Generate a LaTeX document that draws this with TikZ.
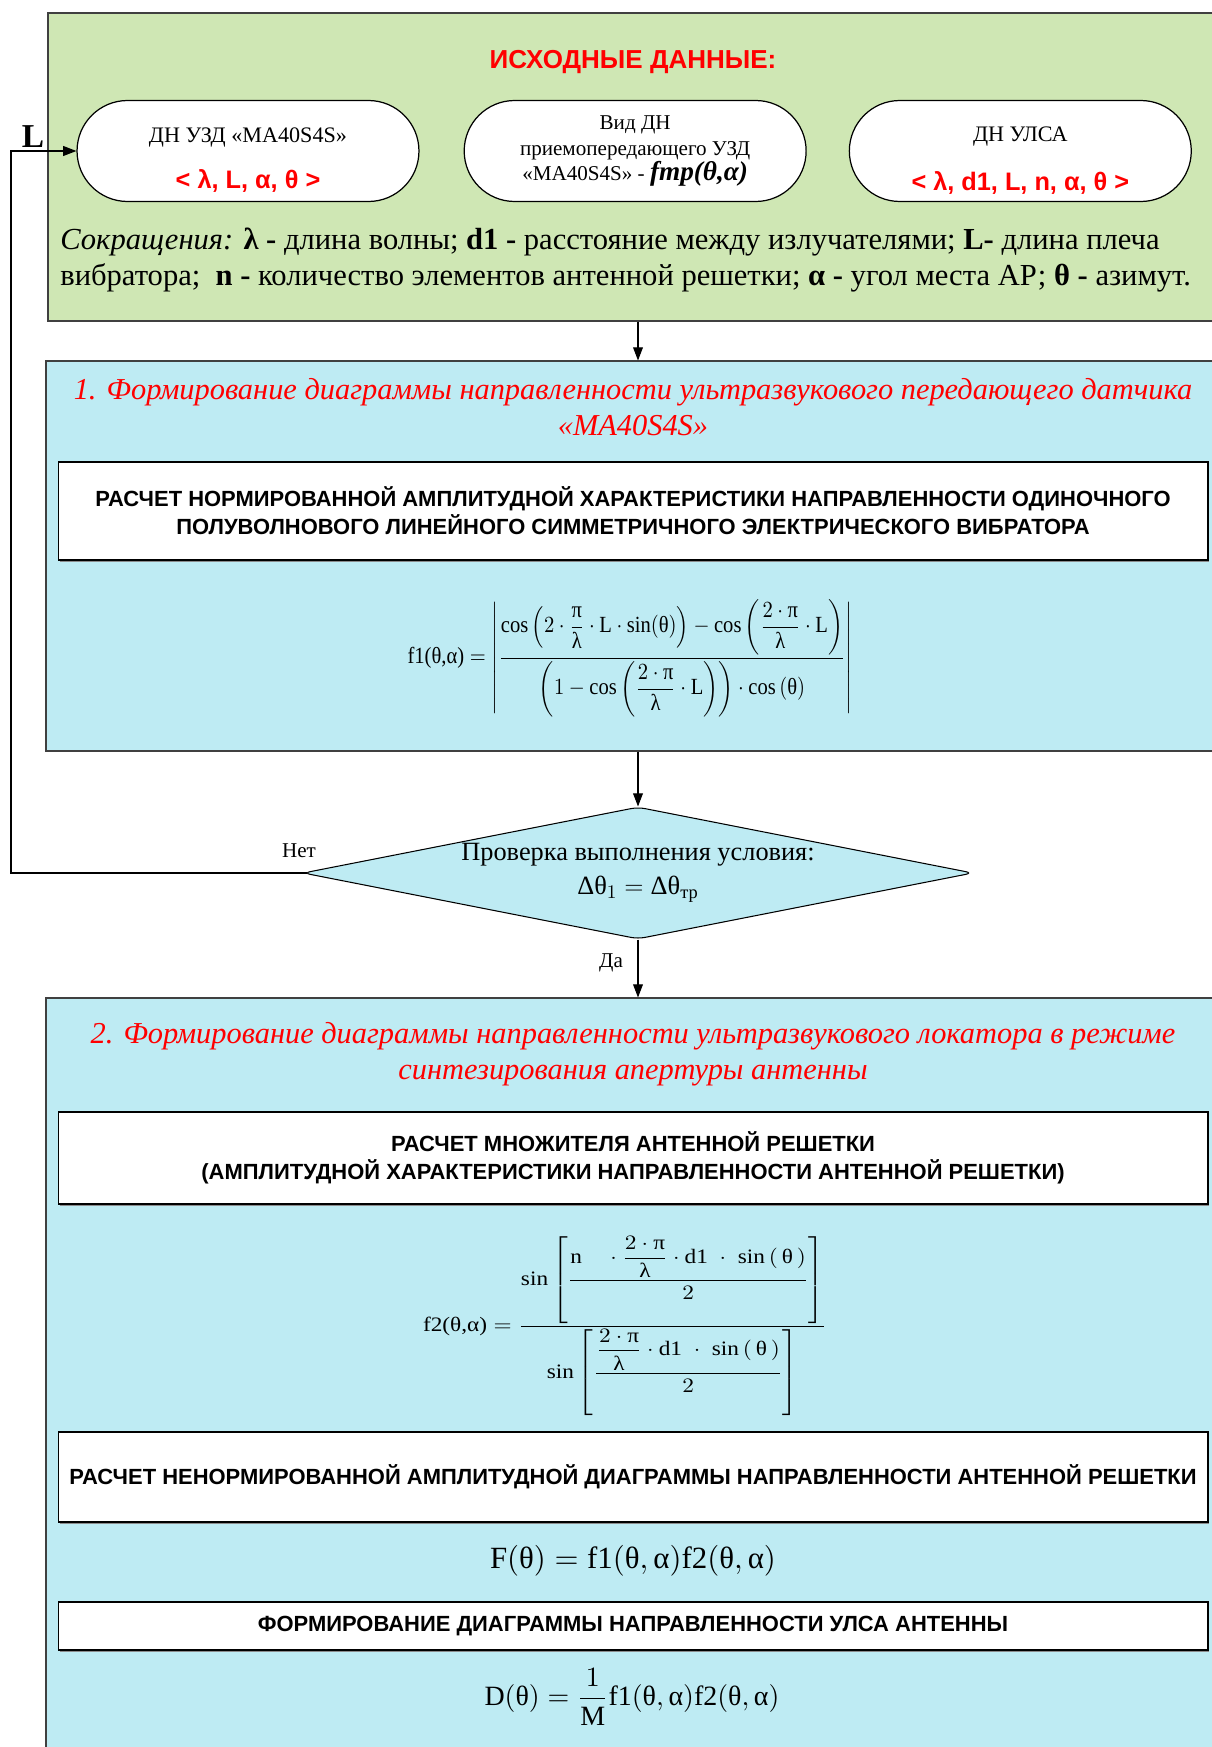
\documentclass[tikz,border=0pt]{standalone}
\usepackage{fontspec}
\setmainfont{Liberation Serif}
\setsansfont{Liberation Sans}
\usepackage{amsmath}
\usepackage{graphicx}
\usetikzlibrary{arrows.meta, positioning, shapes.geometric, shapes.misc, fit, shadows}
\definecolor{srcGreen}{HTML}{CFE7B4}
\definecolor{stageCyan}{HTML}{BEEBF3}
\definecolor{hdRed}{HTML}{FF0000}
\newcommand{\tht}{\text{θ}}
\newcommand{\alp}{\text{α}}
\newcommand{\lam}{\text{λ}}
\newcommand{\pii}{\text{π}}
\newcommand{\redpar}[1]{{\sffamily\bfseries\fontsize{14.4}{16}\selectfont\color{hdRed}#1}}
\newcommand{\lowr}{\rule{0pt}{19pt}}

\begin{document}
\begin{tikzpicture}[x=0.02cm, y=-0.02cm,
  panel/.style={draw=black!75, line width=0.6pt, inner sep=0pt},
  calcbox/.style={rectangle, draw=black, fill=white, line width=0.7pt, inner sep=0pt, align=center,
    drop shadow={shadow xshift=0.9pt, shadow yshift=-0.9pt, fill=black!45, opacity=1},
    minimum width=23cm, font=\sffamily\bfseries\fontsize{12.5}{15.9}\selectfont},
  datum/.style={rounded rectangle, draw=black, fill=white, line width=0.7pt,
    minimum width=6.84cm, minimum height=2.02cm, align=center, inner sep=0pt,
    font=\fontsize{12.6}{15}\selectfont},
  stagehead/.style={font=\itshape\fontsize{17.3}{20.4}\selectfont, text=hdRed, align=center},
  decision/.style={diamond, aspect=5, draw=black, fill=stageCyan, line width=0.6pt, inner sep=0pt,
    rounded corners=4pt, minimum width=13.4cm, minimum height=2.64cm, align=center,
    font=\fontsize{15}{19.3}\selectfont},
  tag/.style={font=\fontsize{12}{14}\selectfont, inner sep=1pt},
  arr/.style={-{Triangle[length=7.5pt,width=5.6pt]}, line width=0.6pt}
]
  \useasboundingbox (0,0) rectangle (1211,1747);

  \node[panel, fill=srcGreen, fit={(48,13) (1216,321)}] (src) {};
  \node[font=\sffamily\bfseries\fontsize{14.8}{16}\selectfont, text=hdRed] (srchead) at (633,62) {ИСХОДНЫЕ ДАННЫЕ:};
  \node[datum] (dnuzd) at (248,151) {\lowr ДН УЗД «MA40S4S»\\[11pt]\redpar{< λ, L, α, θ >}};
  \node[datum, font=\fontsize{12}{14.5}\selectfont, right=0.88cm of dnuzd] (vid) {Вид ДН\\приемопередающего УЗД\\«MA40S4S» - {\bfseries\itshape\fontsize{15.5}{15}\selectfont fmp(θ,α)}};
  \node[datum, right=0.84cm of vid] (dnulsa) {\lowr ДН УЛСА\\[13pt]\redpar{< λ, d1, L, n, α, θ >}};
  \node[anchor=west, align=left, inner sep=0pt, font=\fontsize{17.4}{20.4}\selectfont] (abbr) at (60,260)
    {\textit{Сокращения:} \textbf{λ -} длина волны; \textbf{d1 -} расстояние между излучателями; \textbf{L-} длина плеча\\
     вибратора;\ \ \textbf{n -} количество элементов антенной решетки; \textbf{α -} угол места АР; \textbf{θ -} азимут.};
  \node[font=\bfseries\fontsize{19}{20}\selectfont, inner sep=0pt] (lin) at (33,137) {L};

  \node[panel, fill=stageCyan, fit={(46,361) (1216,751)}] (st1) {};
  \node[stagehead] (st1head) at (633,407) {1. Формирование диаграммы направленности ультразвукового передающего датчика\\«MA40S4S»};
  \node[calcbox, minimum height=1.96cm] (calc1) at (633,511) {РАСЧЕТ НОРМИРОВАННОЙ АМПЛИТУДНОЙ ХАРАКТЕРИСТИКИ НАПРАВЛЕННОСТИ ОДИНОЧНОГО\\ПОЛУВОЛНОВОГО ЛИНЕЙНОГО СИММЕТРИЧНОГО ЭЛЕКТРИЧЕСКОГО ВИБРАТОРА};
  \node[inner sep=0pt] (fone) at (630,658) {\resizebox*{8.9cm}{2.35cm}{$\text{f1(θ,α)} = \left|\dfrac{\text{cos}\left(2\cdot\dfrac{\pii}{\lam}\cdot\mathrm{L}\cdot\text{sin}(\tht)\right) - \text{cos}\left(\dfrac{2\cdot\pii}{\lam}\cdot\mathrm{L}\right)}{\left(1-\text{cos}\left(\dfrac{2\cdot\pii}{\lam}\cdot\mathrm{L}\right)\right)\cdot\text{cos}\,(\tht)}\right|$}};

  \node[decision] (dia) at (638,873) {Проверка выполнения условия:\\$\text{Δθ}_1 = \text{Δθ}_{\text{тр}}$};
  \node[tag] (no) at (299,851) {Нет};
  \node[tag] (yes) at (611,963) {Да};

  \node[panel, fill=stageCyan, fit={(46,998) (1216,1760)}] (st2) {};
  \node[stagehead] (st2head) at (633,1054) {2. Формирование диаграммы направленности ультразвукового локатора в режиме\\синтезирования апертуры антенны};
  \node[calcbox, minimum height=1.84cm] (calc2) at (633,1158) {РАСЧЕТ МНОЖИТЕЛЯ АНТЕННОЙ РЕШЕТКИ\\(АМПЛИТУДНОЙ ХАРАКТЕРИСТИКИ НАПРАВЛЕННОСТИ АНТЕННОЙ РЕШЕТКИ)};
  \node[inner sep=0pt] (ftwo) at (625,1326) {\resizebox*{8.08cm}{3.6cm}{$\text{f2(θ,α)} = \dfrac{\text{sin}\left[\dfrac{\mathrm{n}\quad\cdot\dfrac{2\cdot\pii}{\lam}\cdot\mathrm{d1}\;\cdot\;\text{sin}\,(\,\tht\,)}{2}\right]}{\text{sin}\left[\dfrac{\dfrac{2\cdot\pii}{\lam}\cdot\mathrm{d1}\;\cdot\;\text{sin}\,(\,\tht\,)}{2}\right]}$}};
  \node[calcbox, minimum height=1.8cm] (calc3) at (633,1477) {РАСЧЕТ НЕНОРМИРОВАННОЙ АМПЛИТУДНОЙ ДИАГРАММЫ НАПРАВЛЕННОСТИ АНТЕННОЙ РЕШЕТКИ};
  \node[inner sep=0pt] (fbig) at (633,1561) {\resizebox{5.72cm}{!}{$\mathrm{F}(\tht) = \mathrm{f1}(\tht,\alp)\mathrm{f2}(\tht,\alp)$}};
  \node[calcbox, minimum height=0.96cm] (calc4) at (633,1626) {ФОРМИРОВАНИЕ ДИАГРАММЫ НАПРАВЛЕННОСТИ УЛСА АНТЕННЫ};
  \node[inner sep=0pt] (dpat) at (632,1697) {\resizebox{5.9cm}{!}{$\mathrm{D}(\tht) = \dfrac{1}{\mathrm{M}}\mathrm{f1}(\tht,\alp)\mathrm{f2}(\tht,\alp)$}};

  \coordinate (loop) at (11,873);
  \draw[arr] (src.south -| dia.north) -- (st1.north -| dia.north);
  \draw[arr] (st1.south -| dia.north) -- (dia.north);
  \draw[arr] (dia.south) -- (st2.north -| dia.south);
  \draw[arr] ([xshift=2.3pt]dia.west) -- (loop) |- (dnuzd.west);
\end{tikzpicture}
\end{document}
